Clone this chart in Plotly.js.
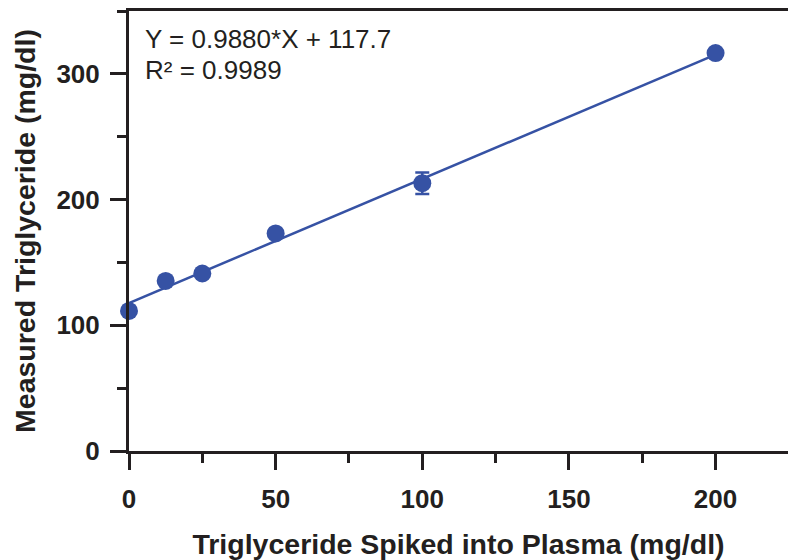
<!DOCTYPE html>
<html>
<head>
<meta charset="utf-8">
<script src="https://cdn.plot.ly/plotly-3.0.1.min.js"></script>
<style>html,body{margin:0;padding:0;background:#fff;}#chart{width:788px;height:560px;}</style>
</head>
<body>
<div id="chart"></div>
<script>
// Data
var spiked = [0, 12.5, 25, 50, 100, 200];
var measured = [111.4, 135.3, 141.2, 173.1, 213.0, 316.5];
var errors = [0, 0, 0, 0, 8.6, 0];
var fitSlope = 0.9880;
var fitIntercept = 117.7;
var fitX = [0, 200];
var xTicks = [0, 50, 100, 150, 200];
var yTicks = [0, 100, 200, 300];
var eqText = "Y = 0.9880*X + 117.7";
var r2Text = "R² = 0.9989";

var blue = "#3652a4";
var axisColor = "#231f20";

var fitY = fitX.map(function (x) { return fitSlope * x + fitIntercept; });

var traces = [
  {
    x: fitX, y: fitY, type: "scatter", mode: "lines",
    line: {color: blue, width: 2.5}, hoverinfo: "skip", showlegend: false
  },
  {
    x: spiked, y: measured, type: "scatter", mode: "markers", cliponaxis: false,
    marker: {color: blue, size: 18},
    error_y: {type: "data", array: errors, visible: true, color: blue, thickness: 2.5, width: 7},
    showlegend: false
  }
];

var tickFont = {family: "Liberation Sans, Arial, sans-serif", size: 26, color: axisColor, weight: "bold"};
var titleFont = {family: "Liberation Sans, Arial, sans-serif", size: 28.5, color: axisColor, weight: "bold"};

var layout = {
  width: 788, height: 560,
  margin: {l: 129, r: 0, t: 11, b: 109, pad: 0},
  paper_bgcolor: "#fff", plot_bgcolor: "#fff",
  showlegend: false,
  xaxis: {
    range: [0, 224.7], showgrid: false, zeroline: false,
    showline: true, linecolor: axisColor, linewidth: 3, mirror: true,
    tickmode: "array", tickvals: xTicks, ticktext: xTicks.map(String),
    ticks: "outside", ticklen: 16, tickwidth: 3, tickcolor: axisColor,
    minor: {dtick: 25, tick0: 0, ticks: "outside", ticklen: 9, tickwidth: 3, tickcolor: axisColor, showgrid: false},
    tickfont: tickFont, ticklabelstandoff: 7,
    title: {text: "Triglyceride Spiked into Plasma (mg/dl)", font: titleFont, standoff: 26}
  },
  yaxis: {
    range: [0, 350], showgrid: false, zeroline: false,
    showline: true, linecolor: axisColor, linewidth: 3,
    tickmode: "array", tickvals: yTicks, ticktext: yTicks.map(String),
    ticks: "outside", ticklen: 16, tickwidth: 3, tickcolor: axisColor,
    minor: {dtick: 50, tick0: 0, ticks: "outside", ticklen: 9, tickwidth: 3, tickcolor: axisColor, showgrid: false},
    tickfont: tickFont, ticklabelstandoff: 5,
    title: {text: "Measured Triglyceride (mg/dl)", font: titleFont, standoff: 13}
  },
  annotations: [
    {xref: "paper", yref: "paper", x: 0.021, y: 0.9375, xanchor: "left", yanchor: "middle",
     text: eqText, showarrow: false, font: {family: "Liberation Sans, Arial, sans-serif", size: 26, color: axisColor}},
    {xref: "paper", yref: "paper", x: 0.021, y: 0.865, xanchor: "left", yanchor: "middle",
     text: r2Text, showarrow: false, font: {family: "Liberation Sans, Arial, sans-serif", size: 26, color: axisColor}}
  ]
};

Plotly.newPlot("chart", traces, layout, {displayModeBar: false, staticPlot: true});
</script>
</body>
</html>
